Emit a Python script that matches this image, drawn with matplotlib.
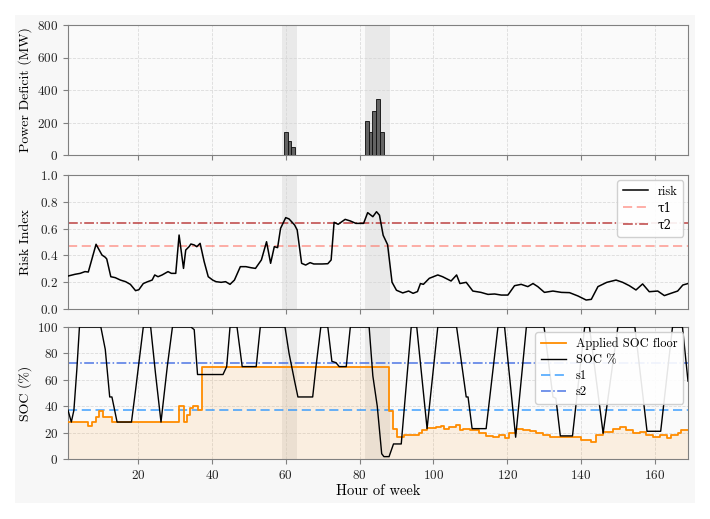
import matplotlib
matplotlib.use('Agg')
import matplotlib.pyplot as plt
from matplotlib.patches import Rectangle

plt.rcParams['font.family'] = ['cmr10', 'DejaVu Serif']
plt.rcParams['mathtext.fontset'] = 'cm'
plt.rcParams['axes.formatter.use_mathtext'] = True
plt.rcParams['axes.unicode_minus'] = False

# ---------------- data ----------------
deficit_hours = [60, 61, 62, 82, 83, 84, 85, 86]
deficit_mw = [140, 88, 47, 209, 140, 273, 346, 141]

event_starts = [59.0, 81.5]
event_ends = [63.0, 88.2]

risk_hours = [1.0, 2.9, 4.3, 5.6, 6.5, 8.6, 10.2, 11.1, 11.5, 12.6,
              13.8, 15.2, 16.6, 17.9, 19.3, 20.2, 21.4, 22.6, 23.8, 24.5,
              25.4, 26.5, 28.1, 29.0, 30.2, 31.1, 32.3, 32.9, 33.8, 34.3,
              35.2, 35.9, 36.8, 37.9, 39.0, 40.2, 41.1, 42.5, 43.7, 44.9,
              46.1, 47.7, 49.2, 50.6, 51.8, 53.4, 54.8, 55.9, 56.9, 57.8,
              58.6, 60.0, 60.9, 62.4, 63.1, 64.3, 65.4, 66.6, 67.6, 69.9,
              71.4, 72.3, 73.1, 74.2, 76.1, 77.5, 79.0, 81.1, 82.2, 83.6,
              84.6, 85.4, 86.4, 87.6, 88.8, 90.0, 91.7, 93.3, 94.5, 95.7,
              96.5, 97.3, 98.9, 101.2, 102.5, 104.8, 106.3, 107.2, 108.9, 110.7,
              112.9, 114.8, 116.6, 118.4, 120.2, 122.0, 123.8, 125.6, 127.0, 128.3,
              130.1, 132.4, 134.7, 136.9, 139.2, 141.4, 142.8, 144.6, 147.0, 149.5,
              151.3, 153.1, 154.9, 156.7, 158.5, 160.8, 162.6, 164.9, 166.2, 167.6,
              169.0]
risk_values = [0.246, 0.259, 0.266, 0.279, 0.276, 0.483, 0.403, 0.386, 0.373, 0.241,
               0.234, 0.216, 0.204, 0.184, 0.137, 0.144, 0.190, 0.204, 0.216, 0.254,
               0.241, 0.254, 0.279, 0.266, 0.266, 0.552, 0.303, 0.440, 0.465, 0.485,
               0.478, 0.465, 0.490, 0.353, 0.241, 0.216, 0.204, 0.199, 0.204, 0.184,
               0.216, 0.316, 0.316, 0.308, 0.303, 0.366, 0.502, 0.341, 0.465, 0.458,
               0.602, 0.682, 0.672, 0.627, 0.590, 0.341, 0.328, 0.346, 0.336, 0.336,
               0.338, 0.366, 0.647, 0.632, 0.669, 0.657, 0.639, 0.639, 0.719, 0.689,
               0.726, 0.700, 0.550, 0.480, 0.200, 0.140, 0.120, 0.134, 0.117, 0.130,
               0.190, 0.184, 0.229, 0.254, 0.241, 0.209, 0.254, 0.190, 0.199, 0.134,
               0.124, 0.109, 0.112, 0.104, 0.104, 0.174, 0.184, 0.167, 0.190, 0.167,
               0.124, 0.134, 0.124, 0.122, 0.097, 0.067, 0.072, 0.167, 0.199, 0.216,
               0.199, 0.174, 0.142, 0.187, 0.129, 0.134, 0.100, 0.122, 0.134, 0.179,
               0.190]

tau1 = 0.47
tau2 = 0.645

soc_hours = [1.0, 1.9, 2.6, 3.4, 4.1, 9.9, 11.1, 12.3, 12.9, 14.3,
             18.2, 19.3, 21.4, 23.4, 24.7, 26.2, 27.9, 29.3, 34.3, 35.2,
             36.1, 43.0, 44.0, 44.9, 46.8, 48.2, 52.0, 53.1, 59.8, 60.9,
             62.4, 63.3, 67.3, 68.2, 69.5, 71.4, 72.5, 73.6, 74.5, 76.4,
             77.5, 82.6, 83.6, 84.8, 86.0, 86.6, 88.0, 89.2, 91.3, 94.0,
             95.5, 98.3, 101.2, 106.3, 108.9, 109.4, 110.5, 114.3, 117.5, 119.3,
             122.3, 125.2, 130.0, 132.4, 133.2, 134.4, 137.7, 141.0, 142.3, 146.0,
             150.0, 154.6, 157.9, 161.6, 164.8, 167.5, 169.0]
soc_values = [37, 28, 37, 68, 100, 100, 83, 47, 47, 28,
              28, 52, 100, 100, 65, 28, 70, 100, 100, 98,
              64, 64, 70, 100, 100, 70, 70, 100, 100, 80,
              59, 47, 47, 70, 100, 100, 74, 73, 70, 70,
              100, 100, 63, 40, 4, 1.8, 1.8, 11.4, 11.4, 100,
              100, 23, 100, 100, 47, 47, 23, 23, 100, 100,
              16.5, 100, 100, 47, 46, 17.5, 17.5, 100, 100, 19.5,
              100, 100, 21, 21, 100, 100, 59]

floor_hours = [1.0, 6.5, 7.5, 8.5, 9.5, 10.5, 13.0, 31.0, 32.3, 33.2,
               34.1, 35.0, 36.3, 37.2, 88.0, 89.1, 90.1, 92.0, 96.1, 97.0,
               98.2, 100.7, 102.1, 103.0, 104.3, 106.2, 107.1, 108.0, 109.8, 112.5,
               114.3, 116.1, 117.9, 119.3, 120.6, 122.4, 124.3, 126.1, 127.9, 129.7,
               131.5, 133.3, 136.9, 140.1, 142.8, 144.2, 146.0, 148.7, 150.5, 152.3,
               154.1, 155.9, 157.7, 159.5, 161.4, 163.2, 164.5, 166.3, 167.2, 169.0]
floor_values = [28, 25, 28, 32, 36, 32, 28, 40.5, 28, 33,
                38.5, 40, 37, 70, 36, 23, 17, 18.2, 19.5, 22,
                23.5, 24, 25, 22.5, 24, 25.6, 22, 23, 22, 19.5,
                17.5, 16.5, 18, 15.7, 19.5, 22.5, 22, 21, 19.5, 18.2,
                17, 16.5, 17, 14.4, 13.2, 18, 20.5, 22.5, 24, 22,
                19.5, 20.5, 18, 17, 18, 15.7, 18, 19.5, 22, 22]

s1 = 37
s2 = 73

xticks = [20, 40, 60, 80, 100, 120, 140, 160]

# ---------------- figure ----------------
W, H = 710, 519
fig = plt.figure(figsize=(W / 100, H / 100), dpi=100, facecolor='white')
fig.patches.append(Rectangle((15 / W, 1 - 503 / H), 680 / W, 488 / H,
                             transform=fig.transFigure, facecolor='#f7f7f7',
                             edgecolor='none', zorder=-10))

left = 68 / W
width = (688 - 68) / W

def axes_px(top, bottom):
    return fig.add_axes([left, 1 - bottom / H, width, (bottom - top) / H])

ax1 = axes_px(25, 155)
ax2 = axes_px(175, 309)
ax3 = axes_px(327, 459)

FS = 10
for ax in (ax1, ax2, ax3):
    ax.set_facecolor('#fafafa')
    ax.set_xlim(1, 169)
    ax.set_xticks(xticks)
    ax.grid(True, linestyle='--', color='#d4d4d4', linewidth=0.6, alpha=0.8)
    ax.set_axisbelow(True)
    for sp in ax.spines.values():
        sp.set_color('#808080')
        sp.set_linewidth(0.8)
    ax.tick_params(colors='#808080', labelcolor='#222222', labelsize=9.5,
                   width=0.8, length=3.5)
    for s, e in zip(event_starts, event_ends):
        ax.axvspan(s, e, color='#b0b0b0', alpha=0.22, linewidth=0, zorder=0.5)

# top: power deficit
ax1.bar(deficit_hours, deficit_mw, width=1.0, color='#555555',
        edgecolor='#111111', linewidth=0.7, alpha=0.9, zorder=3)
ax1.set_ylim(0, 800)
ax1.set_yticks([0, 200, 400, 600, 800])
ax1.set_ylabel('Power Deficit (MW)', fontsize=FS)
ax1.tick_params(labelbottom=False)

# middle: risk
ax2.plot(risk_hours, risk_values, color='black', linewidth=1.1, label='risk', zorder=3)
ax2.axhline(tau1, color='#ff6f61', linestyle='--', linewidth=1.1, alpha=0.7,
            dashes=(6, 3), label='τ1')
ax2.axhline(tau2, color='#b22222', linestyle='-.', linewidth=1.1, alpha=0.85,
            label='τ2')
ax2.set_ylim(0, 1.0)
ax2.set_yticks([0.0, 0.2, 0.4, 0.6, 0.8, 1.0])
ax2.set_ylabel('Risk Index', fontsize=FS)
ax2.tick_params(labelbottom=False)
leg2 = ax2.legend(loc='upper right', fontsize=9, framealpha=0.9, edgecolor='#cccccc',
                  handlelength=2.0, borderpad=0.45, labelspacing=0.3,
                  borderaxespad=0.4)
for t in leg2.get_texts():
    if 'τ' in t.get_text():
        t.set_family('DejaVu Serif')
        t.set_fontsize(8.5)

# bottom: SOC
ax3.step(floor_hours, floor_values, where='post', color='#ff8c00', linewidth=1.3,
         label='Applied SOC floor', zorder=3)
ax3.fill_between(floor_hours, 0, floor_values, step='post', color='#ff8c00',
                 alpha=0.1, linewidth=0, zorder=1)
ax3.plot(soc_hours, soc_values, color='black', linewidth=1.0, label='SOC %', zorder=3)
ax3.axhline(s1, color='#1e90ff', linestyle='--', linewidth=1.1, alpha=0.85,
            dashes=(6, 3), label='s1')
ax3.axhline(s2, color='#2f5fe0', linestyle='-.', linewidth=1.1, alpha=0.85,
            label='s2')
ax3.set_ylim(0, 100)
ax3.set_yticks([0, 20, 40, 60, 80, 100])
ax3.set_ylabel('SOC (%)', fontsize=FS)
ax3.set_xlabel('Hour of week', fontsize=FS + 0.5, labelpad=2)
ax3.legend(loc='upper right', fontsize=9, framealpha=0.9, edgecolor='#cccccc',
           handlelength=2.0, borderpad=0.45, labelspacing=0.3, borderaxespad=0.4)

for ax in (ax1, ax2, ax3):
    ax.yaxis.set_label_coords(-0.058, 0.5)

fig.savefig('out.png', dpi=100, facecolor=fig.get_facecolor())
